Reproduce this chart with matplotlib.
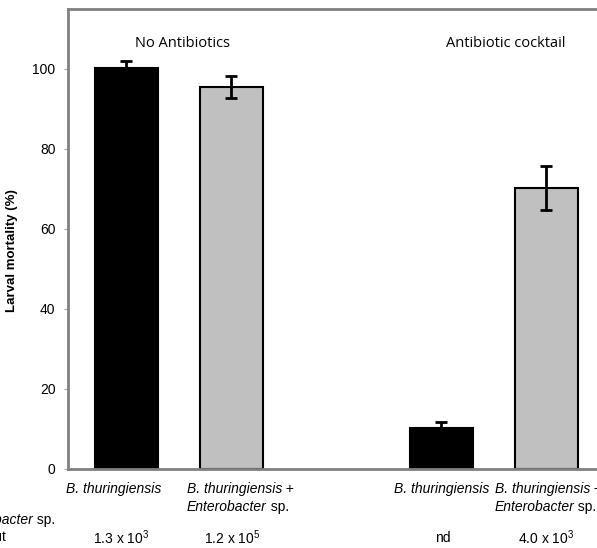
import numpy as np
import matplotlib
matplotlib.use("Agg")
import matplotlib.pyplot as plt
import matplotlib.transforms as mtransforms

# Schrift: Arial-aehnlich
plt.rcParams["font.family"] = ["Liberation Sans", "DejaVu Sans"]
plt.rcParams["mathtext.fontset"] = "custom"
plt.rcParams["mathtext.rm"] = "Liberation Sans"
plt.rcParams["mathtext.it"] = "Liberation Sans:italic"

# ---- Daten ----
positions = [0, 1, 3, 4]
# jede Beschriftung: Liste von Zeilen, jede Zeile: Liste von (Text, kursiv?)
categories = [
    [[("B. thuringiensis", True)]],
    [[("B. thuringiensis", True), (" +", False)],
     [("Enterobacter", True), (" sp.", False)]],
    [[("B. thuringiensis", True)]],
    [[("B. thuringiensis", True), (" +", False)],
     [("Enterobacter", True), (" sp.", False)]],
]
mortality = [100.3, 95.5, 10.2, 70.3]
errors = [1.6, 2.7, 1.5, 5.5]
bar_colors = ["black", "#c0c0c0", "black", "#c0c0c0"]
cfu_labels = [r"1.3 x 10$^3$", r"1.2 x 10$^5$", "nd", r"4.0 x 10$^3$"]
group_titles = ["No Antibiotics", "Antibiotic cocktail"]
yticks = [0, 20, 40, 60, 80, 100]

# ---- Layout (Position der Beschriftungen, in Balken-Einheiten) ----
label_x = [-0.12, 0.576, 3.005, 3.51]
label_ha = ["center", "left", "center", "left"]
cfu_x = [-0.05, 1.01, 3.02, 4.0]
group_x = [0.53, 3.62]

W, H = 597, 548
FS = 10
fig = plt.figure(figsize=(W / 100, H / 100), dpi=100)
# Achse geht rechts ueber den Bildrand hinaus (Original ist beschnitten)
left, right, top, bottom = 68, 604.5, 9, 469
ax = fig.add_axes([left / W, 1 - bottom / H, (right - left) / W, (bottom - top) / H])

ax.bar(positions, mortality, width=0.6, color=bar_colors, edgecolor="black",
       linewidth=1.5, zorder=2)
ax.errorbar(positions, mortality, yerr=errors, fmt="none", ecolor="black",
            elinewidth=2, capsize=4, capthick=2, zorder=3)

ax.set_xlim(-0.557, 4.557)
ax.set_ylim(0, 115)
ax.set_yticks(yticks)
ax.tick_params(axis="y", labelsize=FS, length=3, color="#aaaaaa", width=0.8, pad=6)
ax.set_xticks([])

for side in ["left", "top", "bottom", "right"]:
    ax.spines[side].set_color("#808080")
    ax.spines[side].set_linewidth(2)

ax.set_ylabel("Larval mortality (%)", fontsize=9.5, fontweight="bold")
ax.yaxis.set_label_coords(-0.093, 0.474)

for t, gx in zip(group_titles, group_x):
    ax.text(gx, 106.3, t, ha="center", va="center", fontsize=10.5,
            family=["Open Sans", "DejaVu Sans"])

renderer = fig.canvas.get_renderer()


def mixed_line(x, y, parts, transform, ha="center"):
    """Eine Zeile aus kursiven/normalen Stuecken zusammensetzen."""
    widths = []
    for s, it in parts:
        t = fig.text(0, 0, s, fontsize=FS, style="italic" if it else "normal")
        widths.append(t.get_window_extent(renderer).width)
        t.remove()
    total = sum(widths)
    start = {"center": -total / 2, "right": -total, "left": 0}[ha]
    for (s, it), w in zip(parts, widths):
        tr = mtransforms.offset_copy(transform, fig=fig, x=start * 72 / fig.dpi,
                                     y=0, units="points")
        fig.text(x, y, s, transform=tr, ha="left", va="center", fontsize=FS,
                 style="italic" if it else "normal")
        start += w


trans = mtransforms.blended_transform_factory(ax.transData, fig.transFigure)
line_y = [1 - 489 / H, 1 - 507 / H]
for x, ha, lines in zip(label_x, label_ha, categories):
    for i, parts in enumerate(lines):
        mixed_line(x, line_y[i], parts, trans, ha=ha)

# Zeile mit Keimzahlen unter den Balken
for x, lab in zip(cfu_x, cfu_labels):
    fig.text(x, 1 - 538 / H, lab, transform=trans, ha="center", va="center",
             fontsize=FS)

# Zeilenbeschriftung links (im Original abgeschnitten)
mixed_line(55 / W, 1 - 520 / H, [("Enterobacter", True), (" sp.", False)],
           fig.transFigure, ha="right")
fig.text(6 / W, 1 - 537 / H, "CFU per gut", ha="right", va="center", fontsize=FS)

fig.savefig("out.png", dpi=100)
